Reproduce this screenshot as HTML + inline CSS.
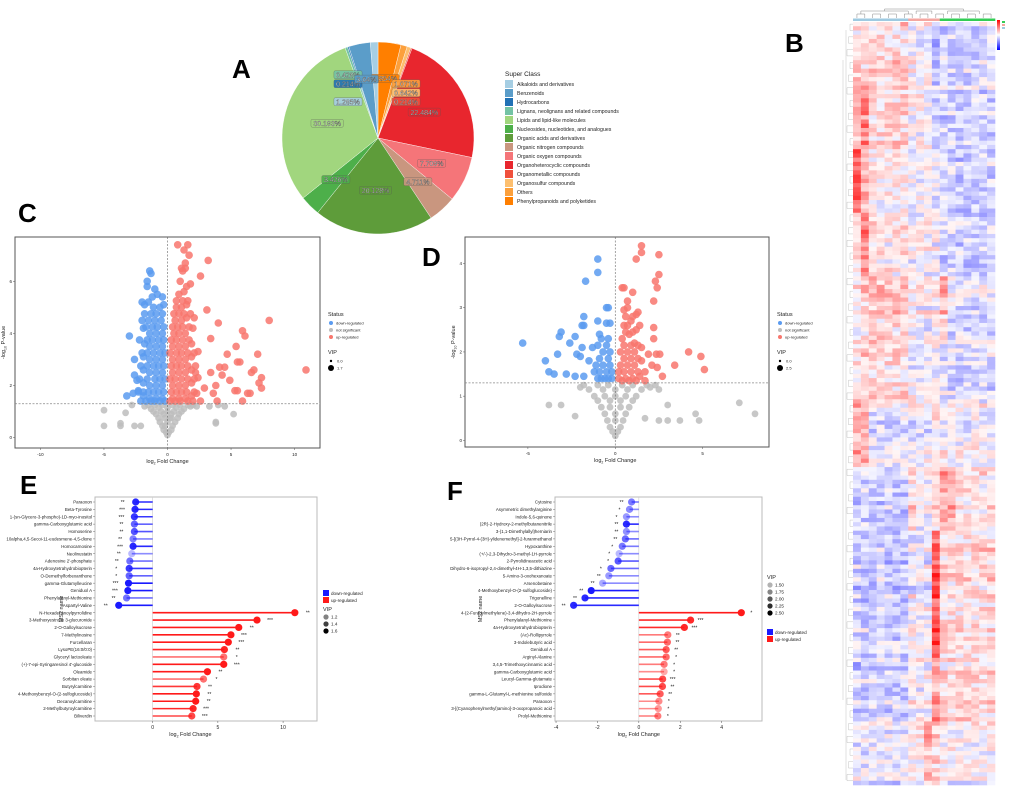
<!DOCTYPE html>
<html><head><meta charset="utf-8"><style>
html,body{margin:0;padding:0;background:#fff;}
svg{display:block;font-family:"Liberation Sans",sans-serif;}
</style></head><body>
<svg id="fig" width="1020" height="790" viewBox="0 0 1020 790" xmlns="http://www.w3.org/2000/svg">
<defs><linearGradient id="hg" x1="0" y1="0" x2="0" y2="1"><stop offset="0" stop-color="#ff0000"/><stop offset="0.5" stop-color="#ffffff"/><stop offset="1" stop-color="#0000ff"/></linearGradient></defs>
<text x="232" y="78" font-size="26" font-weight="bold">A</text>
<text x="785" y="52" font-size="26" font-weight="bold">B</text>
<text x="18" y="222" font-size="26" font-weight="bold">C</text>
<text x="422" y="266" font-size="26" font-weight="bold">D</text>
<text x="20" y="494" font-size="26" font-weight="bold">E</text>
<text x="447" y="500" font-size="26" font-weight="bold">F</text>
<g id="pie"></g>
<g id="heat"></g>
<g id="volC"></g>
<g id="volD"></g>
<g id="lolE"></g>
<g id="lolF"></g>
</svg>
<script>
// ---------- Pie data ----------
const pieClasses=["Phenylpropanoids and polyketides","Others","Organosulfur compounds","Organometallic compounds","Organoheterocyclic compounds","Organic oxygen compounds","Organic nitrogen compounds","Organic acids and derivatives","Nucleosides, nucleotides, and analogues","Lipids and lipid-like molecules","Lignans, neolignans and related compounds","Hydrocarbons","Benzenoids","Alkaloids and derivatives"];
const pieValues=[3.854,1.071,0.642,0.214,22.484,7.709,4.711,20.128,3.426,30.193,0.428,0.214,3.64,1.285];
const pieColors=["#ff7f00","#fca03c","#fdbf6f","#f0503c","#e8262e","#f57579","#c9967f","#5e9c3a","#4daf4a","#a1d67e","#74c3a5","#2171b5","#5b9dc9","#a6cee3"];
const legendOrder=["Alkaloids and derivatives","Benzenoids","Hydrocarbons","Lignans, neolignans and related compounds","Lipids and lipid-like molecules","Nucleosides, nucleotides, and analogues","Organic acids and derivatives","Organic nitrogen compounds","Organic oxygen compounds","Organoheterocyclic compounds","Organometallic compounds","Organosulfur compounds","Others","Phenylpropanoids and polyketides"];

// ---------- Volcano C data ----------
const cFC=[0.8,1.6,1.3,1.7,1.4,3.2,1.2,2.6,1.8,3.1,4.0,8.0,5.9,6.1,3.4,5.4,4.7,7.1,5.5,5.7,4.5,4.1,6.6,6.8,10.9,3.4,4.3,7.4,4.9,7.2,3.8,7.4,5.3,5.5,6.3,6.5,3.6,5.9,3.9,2.9,2.2,
-1.4,-1.3,-1.6,-1.6,-1.0,-0.4,-2.0,-3.0,-2.6,-2.6,-3.2,-2.7,-0.3,-1.8,
-5,-3.3,-5,-3.7,-3.7,-2.6,-2.1,3.8,3.8,5.2,4.5,3.3,4.0,-2.8,
-0.4,-0.9,-1.4,-1.9,-2.3,-0.4,-0.9,-1.4,-1.9,-2.4,-0.4,-0.9,-1.4,-1.9,-0.4,-0.9,-1.4,-1.9,-0.4,-0.9,-1.4,-1.8,-0.4,-0.9,-1.4,-1.9,-0.5,-1.0,-1.5,-2.0,-0.6,-1.1,-1.5,-0.8,-1.2,
0.4,0.9,1.4,1.9,2.3,0.4,0.9,1.4,1.9,2.4,0.4,0.9,1.4,1.9,0.4,0.9,1.4,1.9,2.4,0.4,0.9,1.4,1.9,0.5,0.9,1.4,2.0,0.6,1.1,1.5,2.1,0.7,1.1,1.5,0.9,1.3,1.0,1.5,
0,-0.3,0.3,-0.6,0,0.6,-0.9,-0.3,0.3,0.9,-1.3,-0.7,0,0.7,1.3,-1.8,1.8,2.3,-0.2,0.2];
const cP=[7.4,7.4,7.2,7.0,6.7,6.8,6.4,6.2,5.9,4.9,4.4,4.5,4.1,3.9,3.8,3.5,3.2,3.2,2.9,2.9,2.7,2.7,2.5,2.6,2.6,2.5,2.4,2.3,2.2,2.1,2.0,1.9,1.8,1.8,1.7,1.7,1.7,1.4,1.4,1.9,2.5,
6.4,6.3,6.0,5.8,5.7,5.4,5.2,3.9,3.0,2.4,1.6,1.7,5.1,5.1,
1.05,0.95,0.45,0.55,0.45,0.45,0.45,0.6,0.55,0.9,1.2,1.2,1.25,1.25,
1.5,1.5,1.5,1.6,1.8,2.0,2.0,2.0,2.1,2.2,2.5,2.5,2.5,2.6,3.0,3.0,3.0,3.1,3.5,3.5,3.5,3.6,4.0,4.0,4.0,4.2,4.5,4.5,4.5,4.5,5.0,5.0,5.2,5.5,5.4,
1.5,1.5,1.5,1.6,1.7,2.0,2.0,2.0,2.1,2.3,2.5,2.5,2.5,2.6,3.0,3.0,3.0,3.1,3.3,3.5,3.5,3.5,3.6,4.0,4.0,4.0,4.2,4.5,4.5,4.6,4.6,5.0,5.0,5.1,5.5,5.6,6.0,5.8,
0.1,0.3,0.3,0.6,0.6,0.6,0.9,0.9,0.9,0.9,1.1,1.15,1.15,1.15,1.1,1.2,1.2,1.2,0.45,0.75];
// dense-core points, grouped by row: [p-value, [fold changes...]]
const cCoreRows=[
[1.4,[-0.2,-0.6,-1.0,-1.3,-1.7,-2.1,0.2,0.6,1.0,1.6,2.0,2.6]],
[1.75,[-0.3,-0.7,-1.1,-1.5,-1.9,-2.3,0.3,0.7,1.1,1.5,2.1]],
[2.25,[-0.2,-0.6,-1.0,-1.6,-2.2,0.2,0.6,1.1,1.6,2.1]],
[2.75,[-0.3,-0.7,-1.1,-1.6,-2.1,0.3,0.7,1.1,1.6,2.2]],
[3.25,[-0.2,-0.6,-1.1,-1.6,-2.0,0.2,0.7,1.1,1.6,2.1]],
[3.75,[-0.3,-0.7,-1.2,-1.6,-2.2,0.3,0.7,1.2,1.7]],
[4.25,[-0.3,-0.8,-1.2,-1.7,0.4,0.8,1.2,1.7]],
[4.75,[-0.4,-0.9,-1.3,-1.8,0.5,0.9,1.3,1.8]],
[5.25,[0.7,1.2,1.6]],[6.5,[1.1,1.4]],
[0.2,[-0.1,0.1]],[0.45,[-0.4,0.4]],[0.75,[-0.7,-0.2,0.3,0.8]],
[1.0,[-1.1,-0.5,0,0.5,1.1]],[1.25,[-1.5,-1.0,-0.4,0.4,1.0,1.6,2.0]]];
const cXTicks=[-10,-5,0,5,10];
const cYTicks=[0,2,4,6];

// ---------- Volcano D data ----------
const dFC=[-1,-1,-1.7,-0.5,-0.4,-1.8,-1.9,-1.8,-1.0,-0.5,-0.3,-3.1,-3.2,-2.3,-2.6,-5.3,-1.9,-2.2,-2.0,-3.3,-4.0,-3.8,-3.5,-2.8,-2.3,-1.8,-1.5,-1.3,-0.9,
-0.2,-0.6,-1.0,-0.3,-0.7,-1.1,-0.3,-0.7,-0.4,-0.8,
1.5,1.5,1.2,2.5,2.5,2.3,2.4,0.4,0.5,1.0,2.2,0.7,0.7,0.5,1.3,1.2,2.2,2.2,1.9,2.35,2.55,4.2,4.9,3.4,5.1,2.1,2.4,2.7,
0.2,0.6,1.0,1.4,0.3,0.7,1.1,1.5,0.3,0.7,1.1,1.5,0.4,0.8,1.2,0.9,0.5,1.1,
0,-0.3,0.3,-0.6,0,0.6,-1,-0.3,0.3,1,-1.5,-0.7,0,0.7,1.5,-2,2,2.5,1.7,2.5,3.0,-3.8,-3.1,-2.3,3.0,7.1,8.0,3.7,4.6,4.8];
const dP=[4.1,3.8,3.6,3.0,3.0,2.8,2.6,2.6,2.7,2.65,2.65,2.45,2.35,2.35,2.2,2.2,2.1,1.95,1.9,1.95,1.8,1.55,1.5,1.5,1.45,1.45,1.8,2.1,2.4,
1.4,1.4,1.4,1.7,1.7,1.7,2.0,2.0,2.3,2.3,
4.4,4.25,4.1,4.2,3.75,3.6,3.45,3.45,3.45,3.35,3.15,3.15,3.0,2.95,2.9,2.85,2.55,2.3,1.95,1.95,1.95,2.0,1.9,1.7,1.6,1.7,1.65,1.45,
1.4,1.4,1.4,1.45,1.7,1.7,1.7,1.8,2.0,2.0,2.0,2.1,2.3,2.4,2.5,2.7,2.6,2.2,
0.1,0.3,0.3,0.6,0.6,0.6,0.9,0.9,0.9,0.9,1.15,1.15,1.15,1.15,1.15,1.2,1.2,1.15,0.5,0.45,0.45,0.8,0.8,0.55,0.8,0.85,0.6,0.45,0.6,0.45];
const dCoreRows=[
[1.4,[-0.4,-0.8]],[1.55,[-0.2,-0.5,-0.9,-1.2]],[1.85,[-0.4,-0.9]],[2.15,[-0.5,-1.0]],
[1.35,[0.4,0.8,1.2,1.7]],[1.55,[0.2,0.5,0.9,1.3,1.7]],[1.85,[0.5,0.9,1.3]],[2.15,[0.5,0.9,1.3]],
[2.45,[0.6,1.0]],[2.6,[1.4,0.7]],[2.8,[0.6,1.0]],
[0.2,[-0.15,0.15]],[0.45,[-0.45,0,0.45]],[0.75,[-0.8,-0.3,0.3,0.8]],
[1.0,[-1.2,-0.6,0,0.6,1.2]],[1.25,[-1.8,-1.0,-0.4,0.4,1.0,1.8,2.3]]];
const dXTicks=[-5,0,5];
const dYTicks=[0,1,2,3,4];

// ---------- Lollipop E data ----------
const eNames=["Paraoxon","Beta-Tyrosine","1-(sn-Glycero-3-phospho)-1D-myo-inositol","gamma-Carboxyglutamic acid","Homoserine","10alpha,4,5-Secoi-11-eudesmene-4,5-dione","Homocarnosine","Neolinustatin","Adenosine 2'-phosphate","4a-Hydroxytetrahydrobiopterin","O-Demethylforbexanthone","gamma-Glutamylleucine","Geniduol A","Phenylalanyl-Methionine","Aspartyl-Valine","N-Hexadecanoylpyrrolidine","3-Methoxyestrone 3-glucuronide","2-O-Galloylsucrose","7-Methylinosine","Furcellaran","LysoPE(16:0/0:0)","Glyceryl lactooleate","(+)-7-epi-Syringaresinol 4'-glucoside","Oleamide","Sorbitan oleate","Butyrylcarnitine","4-Methoxybenzyl-O-(2-sulfoglucoside)","Decanoylcarnitine","2-Methylbutyroylcarnitine","Biliverdin"];
const eFC=[-1.3,-1.35,-1.4,-1.4,-1.4,-1.5,-1.5,-1.6,-1.75,-1.8,-1.8,-1.85,-1.9,-2.0,-2.6,10.9,8.0,6.6,6.0,5.8,5.5,5.45,5.45,4.2,3.9,3.4,3.35,3.3,3.1,3.0];
const eVIP=[1.55,1.55,1.5,1.35,1.4,1.25,1.55,1.05,1.3,1.5,1.35,1.6,1.6,1.3,1.6,1.6,1.6,1.6,1.6,1.6,1.55,1.3,1.6,1.6,1.3,1.5,1.6,1.6,1.55,1.45];
const eStars=["**","***","***","**","**","**","***","**","**","*","*","***","***","**","**","**","***","**","***","***","**","*","***","**","*","**","**","**","***","***"];
const eXTicks=[0,5,10];

// ---------- Lollipop F data ----------
const fNames=["Cytosine","Asymmetric dimethylarginine","Indole-5,6-quinone","(2R)-2-Hydroxy-2-methylbutanenitrile","3-(1,1-Dimethylallyl)herniarin","5-[(3H-Pyrrol-4-(3H)-ylidenemethyl]-2-furanmethanol","Hypoxanthine","(+/-)-2,3-Dihydro-3-methyl-1H-pyrrole","2-Pyrrolidineacetic acid","Dihydro-6-isopropyl-2,4-dimethyl-4H-1,3,5-dithiazine","5-Amino-3-oxohexanoate","Arsenobetaine","4-Methoxybenzyl-O-(2-sulfoglucoside)","Trigonelline","2-O-Galloylsucrose","4-(2-Furanylmethylene)-3,4-dihydro-2H-pyrrole","Phenylalanyl-Methionine","4a-Hydroxytetrahydrobiopterin","(Ac)-Rollipyrrole","3-Indolebutyric acid","Geniduol A","Arginyl-Alanine","3,4,5-Trimethoxycinnamic acid","gamma-Carboxyglutamic acid","Leucyl-Gamma-glutamate","Iprodione","gamma-L-Glutamyl-L-methionine sulfoxide","Paraoxon","3-[(Cyanophenylmethyl)amino]-3-oxopropanoic acid","Prolyl-Methionine"];
const fFC=[-0.35,-0.45,-0.6,-0.6,-0.6,-0.65,-0.8,-0.95,-1.0,-1.35,-1.45,-1.75,-2.3,-2.6,-3.15,4.95,2.5,2.2,1.4,1.38,1.32,1.32,1.22,1.22,1.15,1.14,1.03,0.97,0.94,0.92];
const fVIP=[1.9,1.8,1.7,2.4,1.75,2.0,1.9,1.5,2.1,2.0,1.7,1.6,2.5,2.4,2.4,2.5,2.4,2.4,1.9,2.0,2.1,2.0,1.9,1.6,2.2,2.2,2.1,1.8,1.7,1.9];
const fStars=["**","*","*","**","**","**","*","*","*","*","**","**","**","**","**","*","***","***","**","**","**","*","*","*","***","**","**","*","*","*"];
const fXTicks=[-4,-2,0,2,4];

// ---------- Heatmap data (row-segment × column mean z-scores) ----------
const heatBias=[
[0.5,0.5,0.5,0.5,0.5,0.5,0.5,0,0,0,-1,-0.5,-0.5,-0.5,-0.5,-0.5,-0.5,-0.5],
[1,1.5,0.5,0.5,0.5,0.5,0.5,0,0,0,-0.6,-0.5,-0.5,-0.5,-0.5,-0.5,-0.5,-0.5],
[2,1,0.5,0.2,0.2,0.2,0.2,0,0,0,-0.3,-0.5,-0.5,-0.5,-0.5,-0.5,-0.5,-0.5],
[0.5,1.5,0.3,0.3,0.3,0.3,0.3,0,0,0,0,-0.5,-0.5,-0.5,-0.5,-0.5,-0.5,-0.5],
[0.3,0.5,0.6,0.6,0.6,0.6,0.6,0,0,0,0,0.8,-0.4,-0.4,-0.4,-0.4,-0.4,-0.4],
[0.5,0.5,0.5,0.5,0.5,0.5,0.5,0,0,0,0,-0.4,-0.4,-0.4,-0.4,-0.4,-0.4,-0.4],
[1,1,-0.3,-0.3,-0.3,-0.3,-0.3,-0.2,-0.2,-0.2,0.5,0,0,0,0,0,0,0],
[-0.5,-0.5,-0.5,-0.5,-0.5,-0.5,-0.5,0.5,0,0,0.3,1,1,0.3,0.3,0.3,0.3,0.3],
[-0.6,-0.6,-0.6,-0.6,-0.6,-0.6,-0.6,-0.2,-0.2,-0.2,2.2,0.5,0.5,0.5,0.5,0.5,0.5,0.5],
[-0.6,-0.6,-0.6,-0.6,-0.6,-0.6,-0.6,0,0,0,2.2,0.4,0.4,0.4,0.4,0.4,0.4,0.4],
[-0.6,-0.6,-0.6,-0.6,-0.6,-0.6,-0.6,0,0,0,1.2,0.4,0.4,0.4,0.4,0.4,0.4,0.4],
[-0.3,-0.3,-0.3,-0.3,-0.3,-0.3,-0.3,0,0,1,0.5,0,0,0,0,0,0,0]];
const heatGroups=["#9ecae1","#9ecae1","#9ecae1","#9ecae1","#9ecae1","#9ecae1","#9ecae1","#f4a6a0","#f4a6a0","#f4a6a0","#f4a6a0","#33cc55","#33cc55","#33cc55","#33cc55","#33cc55","#33cc55","#33cc55"];

const NS="http://www.w3.org/2000/svg";
function mk(parent,tag,attrs){const e=document.createElementNS(NS,tag);for(const k in attrs)e.setAttribute(k,attrs[k]);parent.appendChild(e);return e;}
function txt(parent,x,y,s,size,attrs){const e=mk(parent,'text',Object.assign({x:x,y:y,'font-size':size,fill:'#222'},attrs||{}));e.textContent=s;return e;}

// ---------- PIE ----------
(function(){
 const g=document.getElementById('pie');const cx=378,cy=138,r=96;
 const total=pieValues.reduce((a,b)=>a+b,0);let a0=0;
 pieValues.forEach((v,i)=>{
  const a1=a0+v/total*2*Math.PI;
  const x0=cx+r*Math.sin(a0),y0=cy-r*Math.cos(a0),x1=cx+r*Math.sin(a1),y1=cy-r*Math.cos(a1);
  const p=mk(g,'path',{d:`M${cx},${cy}L${x0},${y0}A${r},${r} 0 ${(a1-a0)>Math.PI?1:0} 1 ${x1},${y1}Z`,fill:pieColors[i],stroke:'#fff','stroke-width':0.4});
  
  
  a0=a1;
 });
 a0=0;
 pieValues.forEach((v,i)=>{
  const a1=a0+v/total*2*Math.PI;
  const am=(a0+a1)/2;const rr=v>10?0.55:(v>3?0.62:0.5);
  let lx=cx+r*rr*Math.sin(am),ly=cy-r*rr*Math.cos(am);
  if(v<3){ly=cy-r*0.55+ (i<4? i*9 : (13-i)*-0+ (i-10)*9)-10;lx=cx+(i<4?28:-30);}
  const lab=v.toFixed(3).replace(/0+$/,'')+'%';
  const w=lab.length*4.2+3;
  const bx=mk(g,'rect',{x:lx-w/2,y:ly-4.5,width:w,height:8,rx:1.5,fill:pieColors[i],stroke:'#555','stroke-width':0.3,opacity:0.9});
  
  
  const t=txt(g,lx,ly+2.2,lab,7,{'text-anchor':'middle',fill:'#fff',stroke:'#333','stroke-width':0.25});
  
  
  a0=a1;
 });
 const lt=txt(g,505,76,'Super Class',6.5);
 
 
 legendOrder.forEach((n,j)=>{
  const i=pieClasses.indexOf(n);const y=80+j*9;
  const k=mk(g,'rect',{x:505,y:y,width:8,height:8,fill:pieColors[i]});
  
  
  const t=txt(g,517,y+6,n,5.2);
  
  
 });
})();

// ---------- HEATMAP ----------
(function(){
 const g=document.getElementById('heat');const x0=853,x1=995,y0=22,y1=785;
 const nC=18,nR=180,cw=(x1-x0)/nC,rh=(y1-y0)/nR;
 function h(i,j){let s=Math.sin(i*12.9898+j*78.233)*43758.5453;return s-Math.floor(s);}
 function col(v){v=Math.max(-2.6,Math.min(2.6,v));const t=Math.pow(Math.abs(v)/2.6,1.15);
  if(v>=0)return `rgb(255,${Math.round(245-225*t)},${Math.round(245-225*t)})`;
  return `rgb(${Math.round(245-225*t)},${Math.round(245-225*t)},255)`;}
 for(let r=0;r<nR;r++){const seg=Math.min(heatBias.length-1,Math.floor(r/nR*heatBias.length));
  const rowShift=(h(r,99)-0.5)*0.6;
  for(let c=0;c<nC;c++){
   const v=heatBias[seg][c]*0.9+rowShift+(h(r,c)-0.5)*1.2;
   const e=mk(g,'rect',{x:(x0+c*cw).toFixed(2),y:(y0+r*rh).toFixed(2),width:(cw+0.3).toFixed(2),height:(rh+0.3).toFixed(2),fill:col(v)});
   
   
  }}
 heatGroups.forEach((c,i)=>{const e=mk(g,'rect',{x:x0+i*cw,y:18.5,width:cw+0.3,height:2.5,fill:c});
  
  });
 let d='';for(let i=0;i<nC;i+=2){const xa=x0+i*cw+cw/2,xb=xa+cw;d+=`M${xa},18V14H${xb}V18`;}
 d+=`M${x0+cw},14V11H${x0+7*cw}V14M${x0+8*cw},14V11H${x0+10*cw}V14M${x0+12*cw},14V11H${x0+16*cw}V14M${x0+4*cw},11V9H${x0+14*cw}V11`;
 const td=mk(g,'path',{d:d,stroke:'#888',fill:'none','stroke-width':0.5});
 
 
 let dl='';for(let r=0;r<nR;r+=3){const ya=y0+r*rh+rh/2,yb=ya+rh*1.5;const xd=850-(r%9)*0.5;dl+=`M853,${ya}H${xd}V${yb}H853`;}
 dl+=`M846,30V780M843,60V700`;
 const ld=mk(g,'path',{d:dl,stroke:'#aaa',fill:'none','stroke-width':0.35});
 
 
 const lg=mk(g,'rect',{x:997,y:20,width:3,height:30,fill:'url(#hg)'});
 
 
 [['#33cc55',21],['#f4a6a0',24],['#9ecae1',27]].forEach(a=>{const e=mk(g,'rect',{x:1002,y:a[1],width:3,height:2,fill:a[0]});
  
  });
})();

// ---------- VOLCANO ----------
function volcano(id,fc0,p0,coreRows,box,xmin,xmax,ymin,ymax,xt,yt,leg,vipMax){
 const g=document.getElementById(id);
 const fc=fc0.slice(),p=p0.slice();
 coreRows.forEach(rw=>rw[1].forEach(x=>{fc.push(x);p.push(rw[0]);}));
 const X=v=>box.x0+(v-xmin)/(xmax-xmin)*(box.x1-box.x0);
 const Y=v=>box.y1-(v-ymin)/(ymax-ymin)*(box.y1-box.y0);
 const fr=mk(g,'rect',{x:box.x0,y:box.y0,width:box.x1-box.x0,height:box.y1-box.y0,fill:'#fff',stroke:'#555','stroke-width':1});
 
 
 xt.forEach(v=>{mk(g,'line',{x1:X(v),x2:X(v),y1:box.y1,y2:box.y1+2,stroke:'#555','stroke-width':0.5});
  const t=txt(g,X(v),box.y1+8,String(v),4.5,{'text-anchor':'middle'});
  
  });
 yt.forEach(v=>{mk(g,'line',{x1:box.x0-2,x2:box.x0,y1:Y(v),y2:Y(v),stroke:'#555','stroke-width':0.5});
  const t=txt(g,box.x0-3,Y(v)+1.5,String(v),4.5,{'text-anchor':'end'});
  
  });
 const order=fc.map((v,i)=>i).sort((a,b)=>{const sa=p[a]>1.3?1:0,sb=p[b]>1.3?1:0;return sa-sb;});
 order.forEach(i=>{
  const sig=p[i]>1.3;const col=!sig?'#bdbdbd':(fc[i]<0?'#5b9bf0':'#f8766d');
  const c=mk(g,'circle',{cx:X(fc[i]).toFixed(1),cy:Y(p[i]).toFixed(1),r:sig?3.8:3.4,fill:col,'fill-opacity':0.85});
  
  
 });
 mk(g,'line',{x1:X(0),x2:X(0),y1:box.y0,y2:box.y1,stroke:'#666','stroke-dasharray':'2,1.5','stroke-width':0.6});
 mk(g,'line',{x1:box.x0,x2:box.x1,y1:Y(1.3),y2:Y(1.3),stroke:'#888','stroke-dasharray':'2,1.5','stroke-width':0.7});
 const xl=txt(g,X(0),box.y1+15,'log',5.5,{'text-anchor':'middle'});
 xl.innerHTML='log<tspan font-size="3.5" dy="1.5">2</tspan><tspan dy="-1.5"> Fold Change</tspan>';
 
 
 const yl=txt(g,0,0,'',5.5,{'text-anchor':'middle',transform:`translate(${box.x0-10},${(box.y0+box.y1)/2}) rotate(-90)`});
 yl.innerHTML='-log<tspan font-size="3.5" dy="1.5">10</tspan><tspan dy="-1.5"> P-value</tspan>';
 
 
 const st=txt(g,leg.x,leg.y,'Status',5.5);
 
 
 [['#5b9bf0','down-regulated'],['#bdbdbd','not significant'],['#f8766d','up-regulated']].forEach((a,j)=>{
  mk(g,'circle',{cx:leg.x+3,cy:leg.y+7+j*7,r:2,fill:a[0]});
  const t=txt(g,leg.x+8,leg.y+8.5+j*7,a[1],4);
  
  });
 const vt=txt(g,leg.x,leg.y+38,'VIP',5.5);
 
 
 mk(g,'circle',{cx:leg.x+3,cy:leg.y+45,r:1.2,fill:'#000'});
 mk(g,'circle',{cx:leg.x+3,cy:leg.y+52,r:3,fill:'#000'});
 txt(g,leg.x+9,leg.y+46.5,'0.0',4);txt(g,leg.x+9,leg.y+53.5,vipMax,4);
}
volcano('volC',cFC,cP,cCoreRows,{x0:15,x1:320,y0:237,y1:448},-12,12,-0.4,7.7,cXTicks,cYTicks,{x:328,y:316},'1.7');
volcano('volD',dFC,dP,dCoreRows,{x0:465,x1:769,y0:237,y1:447},-8.6,8.8,-0.15,4.6,dXTicks,dYTicks,{x:777,y:316},'2.5');

// ---------- LOLLIPOP ----------
function lollipop(id,names,fc,vip,stars,box,xmin,xmax,xt,vipRange,starOff,legPos){
 const g=document.getElementById(id);
 const X=v=>box.x0+(v-xmin)/(xmax-xmin)*(box.x1-box.x0);
 const n=names.length;const Y=i=>box.yf+i*(box.yl-box.yf)/(n-1);
 const fr=mk(g,'rect',{x:box.x0,y:box.y0,width:box.x1-box.x0,height:box.y1-box.y0,fill:'#fff',stroke:'#bbb','stroke-width':1});
 
 
 mk(g,'line',{x1:X(0),x2:X(0),y1:box.y0,y2:box.y1,stroke:'#ccc','stroke-width':0.6});
 xt.forEach(v=>{mk(g,'line',{x1:X(v),x2:X(v),y1:box.y1,y2:box.y1+2,stroke:'#555','stroke-width':0.5});
  const t=txt(g,X(v),box.y1+8,String(v),5,{'text-anchor':'middle'});
  
  });
 names.forEach((nm,i)=>{
  const y=Y(i);const up=fc[i]>0;const c=up?'#ff1a1a':'#1a1aff';
  const op=0.3+0.7*(vip[i]-vipRange[0])/(vipRange[1]-vipRange[0]);
  const l=mk(g,'line',{x1:X(0),x2:X(fc[i]),y1:y,y2:y,stroke:c,'stroke-width':1.6,'stroke-opacity':Math.max(0.5,op)});
  
  
  const d=mk(g,'circle',{cx:X(fc[i]),cy:y,r:3.6,fill:c,'fill-opacity':Math.max(0.25,op)});
  
  
  const s=txt(g,X(fc[i])+(up?starOff:-starOff),y+2,stars[i],5,{'text-anchor':'middle'});
  
  
  const t=txt(g,box.x0-3,y+1.6,nm,4.4,{'text-anchor':'end'});
  
  
  mk(g,'line',{x1:box.x0-2,x2:box.x0,y1:y,y2:y,stroke:'#555','stroke-width':0.4});
 });
 const xl=txt(g,X(0)+(box.x1-box.x0)*(id==='lolE'?0.17:0),box.y1+15,'',5.5,{'text-anchor':'middle'});
 xl.innerHTML='log<tspan font-size="3.5" dy="1.5">2</tspan><tspan dy="-1.5"> Fold Change</tspan>';
 
 
 const yl=txt(g,0,0,'MS2 name',5.5,{'text-anchor':'middle',transform:`translate(${box.yt},${(box.y0+box.y1)/2}) rotate(-90)`});
 
 
 const lgReg=(yy)=>{[['#1a1aff','down-regulated'],['#ff1a1a','up-regulated']].forEach((a,j)=>{
  mk(g,'rect',{x:legPos.x,y:yy+j*7,width:6,height:6,fill:a[0]});
  const t=txt(g,legPos.x+8,yy+j*7+4.8,a[1],4.6);
  
  });};
 const lgVip=(yy,vals)=>{const t=txt(g,legPos.x,yy,'VIP',5.5);
  
  
  vals.forEach((v,j)=>{const op=0.3+0.7*(v-vipRange[0])/(vipRange[1]-vipRange[0]);
   mk(g,'circle',{cx:legPos.x+3,cy:yy+6+j*7,r:2.6,fill:'#000','fill-opacity':Math.max(0.15,op)});
   txt(g,legPos.x+8,yy+7.6+j*7,v.toFixed(legPos.dec),4.6);});};
 if(id==='lolE'){lgReg(legPos.y);lgVip(legPos.y+21,[1.2,1.4,1.6]);}
 else{lgVip(legPos.y,[1.5,1.75,2.0,2.25,2.5]);lgReg(legPos.y+50);}
}
lollipop('lolE',eNames,eFC,eVIP,eStars,{x0:95,x1:317,y0:497,y1:721,yf:502,yl:716,yt:63},-4.42,12.6,eXTicks,[1.05,1.6],13,{x:323,y:590,dec:1});
lollipop('lolF',fNames,fFC,fVIP,fStars,{x0:555,x1:762,y0:497,y1:721,yf:502,yl:716,yt:482},-4.05,5.95,fXTicks,[1.5,2.5],10,{x:767,y:579,dec:2});
</script>
</body></html>
